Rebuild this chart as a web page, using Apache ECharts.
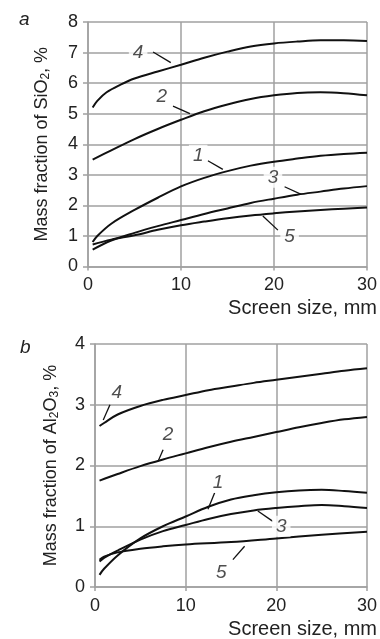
<!DOCTYPE html>
<html>
<head>
<meta charset="utf-8">
<script src="https://cdn.jsdelivr.net/npm/echarts@6/dist/echarts.min.js"></script>
<style>html,body{margin:0;padding:0;background:#fff;}#c{width:380px;height:639px;}</style>
</head>
<body>
<div id="c"></div>
<script>
// ---- Panel a: SiO2 ----
const xTicks = [0, 10, 20, 30];
const a1 = [[0.5,0.8],[1,1.0],[2.5,1.4],[5,1.85],[7.5,2.25],[10,2.62],[12.5,2.9],[15,3.12],[17.5,3.3],[20,3.43],[22.5,3.53],[25,3.62],[27.5,3.68],[30,3.72]];
const a2 = [[0.5,3.5],[2.5,3.8],[5,4.17],[7.5,4.5],[10,4.8],[12.5,5.08],[15,5.3],[17.5,5.48],[20,5.6],[22.5,5.68],[25,5.7],[27.5,5.67],[30,5.6]];
const a3 = [[0.5,0.55],[2.5,0.85],[5,1.1],[7.5,1.32],[10,1.52],[12.5,1.72],[15,1.9],[17.5,2.08],[20,2.22],[22.5,2.35],[25,2.45],[27.5,2.55],[30,2.63]];
const a4 = [[0.5,5.2],[1,5.42],[2,5.7],[3.5,5.95],[5,6.15],[7.5,6.38],[10,6.6],[12.5,6.83],[15,7.03],[17.5,7.2],[20,7.3],[22.5,7.36],[25,7.4],[27.5,7.4],[30,7.38]];
const a5 = [[0.5,0.72],[2.5,0.88],[5,1.02],[7.5,1.2],[10,1.35],[12.5,1.47],[15,1.58],[17.5,1.67],[20,1.74],[22.5,1.8],[25,1.85],[27.5,1.89],[30,1.93]];
// curve labels (name, label point, leader start, leader end) in data units
const aLabels = [
  ['4', [5.39,7.0], [7.0,7.02], [8.9,6.67]],
  ['2', [7.93,5.55], [9.14,5.25], [10.96,5.0]],
  ['1', [11.85,3.64], [12.89,3.46], [14.5,3.18]],
  ['3', [19.89,2.92], [21.14,2.61], [22.93,2.36]],
  ['5', [21.68,0.97], [20.42,1.19], [18.8,1.65]]
];
// ---- Panel b: Al2O3 ----
const b1 = [[0.5,0.2],[1,0.3],[2.5,0.52],[5,0.8],[7.5,1.0],[10,1.16],[12.5,1.32],[15,1.44],[17.5,1.51],[20,1.56],[22.5,1.59],[25,1.6],[27.5,1.58],[30,1.55]];
const b2 = [[0.5,1.75],[2.5,1.86],[5,1.99],[7.5,2.1],[10,2.2],[12.5,2.3],[15,2.39],[17.5,2.47],[20,2.55],[22.5,2.63],[25,2.7],[27.5,2.76],[30,2.8]];
const b3 = [[0.5,0.42],[1,0.48],[2.5,0.6],[5,0.78],[7.5,0.92],[10,1.02],[12.5,1.12],[15,1.2],[17.5,1.26],[20,1.3],[22.5,1.33],[25,1.35],[27.5,1.33],[30,1.3]];
const b4 = [[0.5,2.65],[1,2.7],[2.5,2.84],[5,2.98],[7.5,3.08],[10,3.16],[12.5,3.24],[15,3.3],[17.5,3.36],[20,3.41],[22.5,3.46],[25,3.51],[27.5,3.56],[30,3.6]];
const b5 = [[0.5,0.45],[1,0.5],[2.5,0.57],[5,0.63],[7.5,0.67],[10,0.7],[15,0.74],[20,0.8],[25,0.86],[30,0.91]];
const bLabels = [
  ['4', [2.39,3.19], [1.65,3.0], [0.91,2.75]],
  ['2', [8.06,2.51], [7.51,2.26], [6.96,2.07]],
  ['1', [13.56,1.72], [13.2,1.55], [12.46,1.28]],
  ['3', [20.54,1.0], [19.62,1.08], [17.96,1.25]],
  ['5', [13.94,0.24], [15.21,0.45], [16.5,0.67]]
];
const panelLetters = ['a', 'b'];
const yNames = ['{n|Mass fraction of SiO}{s|2}{n|, %}', '{n|Mass fraction of Al}{s|2}{n|O}{s|3}{n|, %}'];
const xName = 'Screen size, mm';

const FONT = 'Liberation Sans, Arial, sans-serif';
const GRID = '#a0a0a0';

function xAxis(i) {
  return {
    type: 'value', gridIndex: i, min: 0, max: 30, interval: 10,
    axisLine: { show: true, lineStyle: { color: GRID, width: 1.5 } },
    axisTick: { show: true, length: 4, lineStyle: { color: GRID, width: 1.5 } },
    splitLine: { show: true, lineStyle: { color: GRID, width: 1.5 } },
    axisLabel: { color: '#222', fontSize: 18, fontFamily: FONT, margin: 10 },
    name: xName, nameLocation: 'end', nameGap: 10,
    nameTextStyle: { color: '#222', fontSize: 20, fontFamily: FONT, align: 'right', verticalAlign: 'top', padding: [32, 0, 0, 0] }
  };
}
function yAxis(i, max, gap) {
  return {
    type: 'value', gridIndex: i, min: 0, max: max, interval: 1,
    axisLine: { show: true, lineStyle: { color: GRID, width: 1.5 } },
    axisTick: { show: true, length: 5, lineStyle: { color: GRID, width: 1.5 } },
    splitLine: { show: true, lineStyle: { color: GRID, width: 1.5 } },
    axisLabel: { color: '#222', fontSize: 18, fontFamily: FONT, margin: 10 },
    name: yNames[i], nameLocation: 'middle', nameGap: gap,
    nameTextStyle: {
      color: '#222', fontFamily: FONT, fontSize: 18,
      rich: {
        n: { fontSize: 18, fontFamily: FONT, color: '#222' },
        s: { fontSize: 12, fontFamily: FONT, color: '#222', verticalAlign: 'bottom', padding: [8, 0, 0, 0] }
      }
    }
  };
}
function curve(data, i) {
  return { type: 'line', xAxisIndex: i, yAxisIndex: i, data: data, smooth: 0.35, showSymbol: false,
    silent: true, lineStyle: { color: '#111', width: 2 }, z: 3 };
}
function annotations(list, i) {
  const out = [];
  list.forEach(l => {
    out.push({ type: 'line', xAxisIndex: i, yAxisIndex: i, data: [l[2], l[3]], showSymbol: false, silent: true,
      lineStyle: { color: '#111', width: 1.3 }, z: 4 });
  });
  out.push({ type: 'scatter', xAxisIndex: i, yAxisIndex: i, symbolSize: 0, silent: true, z: 5,
    data: list.map(l => ({ value: l[1], name: l[0] })),
    label: { show: true, position: 'inside', formatter: p => p.name, fontSize: 19, fontStyle: 'italic',
      fontFamily: FONT, color: '#222', backgroundColor: '#fff', padding: [1, 4, 1, 4] } });
  return out;
}

const chart = echarts.init(document.getElementById('c'), null, { renderer: 'canvas' });
chart.setOption({
  animation: false,
  backgroundColor: '#fff',
  title: [
    { text: panelLetters[0], left: 14, top: 5, textStyle: { fontSize: 19, fontStyle: 'italic', fontWeight: 'normal', fontFamily: FONT, color: '#222' } },
    { text: panelLetters[1], left: 15, top: 333, textStyle: { fontSize: 19, fontStyle: 'italic', fontWeight: 'normal', fontFamily: FONT, color: '#222' } }
  ],
  grid: [
    { left: 88, right: 12, top: 22, height: 244.5 },
    { left: 95, right: 12, top: 344, height: 244 }
  ],
  xAxis: [xAxis(0), xAxis(1)],
  yAxis: [yAxis(0, 8, 36), yAxis(1, 4, 34)],
  series: [
    curve(a1, 0), curve(a2, 0), curve(a3, 0), curve(a4, 0), curve(a5, 0),
    ...annotations(aLabels, 0),
    curve(b1, 1), curve(b2, 1), curve(b3, 1), curve(b4, 1), curve(b5, 1),
    ...annotations(bLabels, 1)
  ]
});
</script>
</body>
</html>
